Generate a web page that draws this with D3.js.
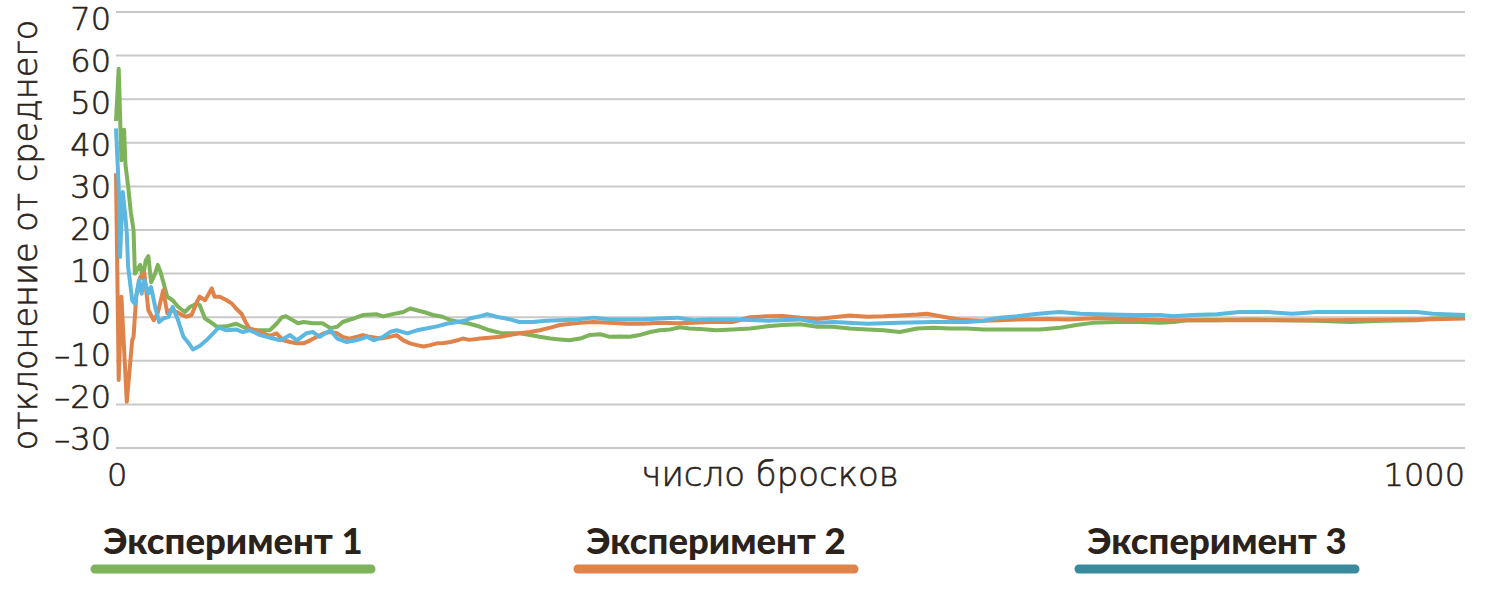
<!DOCTYPE html>
<html>
<head>
<meta charset="utf-8">
<script src="https://cdn.jsdelivr.net/npm/d3@7"></script>
<style>
  body { margin: 0; background: #fff; }
  text { fill: #2b231b; }
  .light { font-family: "DejaVu Sans", sans-serif; font-weight: 200; stroke: #2b231b; stroke-width: 0.6px; }
</style>
</head>
<body>
<script>

// throws and deviation from the mean
const exp1 = [
  [0,45],[2,57],[4,36],[6,43],[7,35],[9,30],[11,24],[13,20],[14,10],[18,12],[20,9],[22,13],
  [24,14],[26,8],[29,10],[31,12],[33,10.4],[38,4.7],[42,3.9],[46,2.4],[51,1.2],[55,2.4],
  [60,3.1],[62,2.8],[66,-0.3],[70,-1.1],[75,-2.2],[82,-2.1],[89,-1.5],[94,-2.2],[102,-3],
  [109,-3],[114,-3],[119,-1.5],[123,0],[126,0.2],[131,-0.7],[135,-1.4],[139,-1.1],[146,-1.4],
  [153,-1.4],[159,-2.5],[164,-2.2],[168,-1.1],[176,-0.3],[183,0.5],[193,0.7],[198,0.2],
  [205,0.7],[213,1.2],[218,2.0],[223,1.6],[228,1.2],[235,0.5],[242,0.1],[248,-0.7],[255,-1.1],
  [262,-1.5],[270,-2.2],[277,-3],[285,-3.6],[292,-3.7],[299,-3.7],[307,-4.1],[314,-4.5],
  [322,-4.9],[329,-5.1],[336,-5.3],[344,-4.9],[351,-4.1],[359,-3.9],[366,-4.5],[374,-4.4],
  [381,-4.5],[388,-4.1],[396,-3.4],[403,-3],[411,-2.8],[418,-2.3],[425,-2.6],[433,-2.7],
  [445,-3],[457,-2.8],[470,-2.6],[483,-2.1],[494,-1.8],[507,-1.6],[520,-2.2],[531,-2.2],
  [544,-2.6],[557,-2.8],[569,-3],[581,-3.4],[594,-2.6],[606,-2.4],[618,-2.6],[631,-2.6],
  [643,-2.8],[655,-2.8],[670,-2.8],[685,-2.8],[700,-2.4],[712,-1.8],[724,-1.3],[742,-1.1],
  [759,-1.1],[774,-1.3],[784,-1.1],[794,-0.7],[816,-0.7],[841,-0.5],[865,-0.7],[890,-0.8],
  [915,-1.1],[939,-0.8],[964,-0.7],[976,-0.3],[1000,-0.1]
];

const exp2 = [
  [0,33],[2,-14.4],[4,4.7],[8,-19.4],[12,-5.3],[13,-4.5],[15,4.7],[18,9.2],[21,10],[24,1.6],
  [28,-0.7],[31,1],[35,6.2],[38,0.9],[40,1.6],[45,1.2],[49,0.5],[52,0.1],[56,0.5],[60,3.5],
  [62,4.7],[66,3.9],[71,6.6],[73,4.7],[77,4.7],[82,3.9],[86,3.1],[89,2],[93,0.8],[96,-1.1],
  [99,-2.6],[104,-3],[109,-3.7],[114,-4.3],[119,-3.7],[124,-5.3],[129,-5.7],[134,-6],[139,-6],
  [144,-5.3],[149,-4.5],[154,-3.7],[159,-3.4],[164,-3.7],[168,-4.5],[173,-4.9],[178,-4.5],
  [183,-4.1],[188,-4.5],[196,-4.9],[203,-4.5],[208,-4.1],[213,-5.3],[218,-6],[223,-6.4],
  [228,-6.7],[233,-6.4],[238,-6],[243,-5.9],[248,-5.7],[253,-5.3],[257,-4.9],[262,-5.2],
  [270,-4.9],[277,-4.7],[285,-4.5],[292,-4.1],[299,-3.7],[307,-3.4],[314,-3],[322,-2.4],
  [329,-1.8],[337,-1.5],[344,-1.3],[354,-1.1],[366,-1.3],[379,-1.5],[391,-1.5],[403,-1.3],
  [416,-1.4],[428,-1.3],[440,-1.1],[457,-1.1],[470,0],[483,0.2],[494,0.3],[507,-0.1],
  [520,-0.4],[532,0],[544,0.4],[557,0.1],[569,0.2],[581,0.4],[594,0.6],[601,0.8],[613,0.1],
  [626,-0.6],[643,-0.8],[655,-0.7],[668,-0.5],[692,-0.4],[705,-0.5],[722,-0.3],[729,-0.2],
  [781,-0.7],[821,-0.7],[895,-0.7],[969,-0.5],[1000,-0.3]
];

const exp3 = [
  [0,43.3],[2,29.9],[3,13.8],[5,28.7],[7,23],[8,19.2],[9,11.5],[12,3.9],[14,3.1],[17,8.5],
  [19,5.4],[21,8.5],[24,5.4],[26,6.9],[29,2.4],[32,-1.1],[35,-0.3],[39,0.1],[42,2.4],[46,-0.7],
  [50,-4.5],[54,-6],[57,-7.4],[62,-6.6],[67,-5.3],[72,-3.7],[76,-2.4],[82,-3],[89,-2.8],
  [94,-3.4],[99,-3],[107,-4.1],[114,-4.7],[122,-5.3],[129,-4.1],[134,-5.3],[141,-3.7],
  [146,-3.4],[151,-4.5],[159,-3],[164,-4.9],[171,-5.7],[178,-5.3],[186,-4.5],[191,-5.3],
  [198,-4.5],[203,-3.4],[208,-3],[216,-3.7],[223,-3],[230,-2.6],[238,-2.1],[245,-1.5],
  [253,-1.1],[260,-0.7],[262,-0.3],[270,0.2],[275,0.7],[282,0.1],[292,-0.5],[299,-1.1],
  [309,-1.1],[319,-0.8],[329,-0.7],[342,-0.5],[354,-0.1],[366,-0.5],[379,-0.5],[391,-0.5],
  [403,-0.3],[416,-0.1],[428,-0.7],[440,-0.5],[457,-0.5],[483,-0.8],[507,-0.5],[520,-1.3],
  [532,-1.1],[557,-1.5],[581,-1.3],[606,-1.1],[631,-1.1],[643,-0.8],[655,-0.1],[668,0.2],
  [680,0.7],[692,1.0],[700,1.2],[715,0.8],[729,0.7],[754,0.5],[774,0.5],[784,0.2],[798,0.5],
  [816,0.7],[833,1.2],[853,1.2],[872,0.8],[890,1.2],[915,1.2],[939,1.2],[964,1.2],[976,0.8],
  [1000,0.5]
];

const yTicks = [70, 60, 50, 40, 30, 20, 10, 0, -10, -20, -30];
const xTicks = [0, 1000];
const legendLabels = ['Эксперимент 1', 'Эксперимент 2', 'Эксперимент 3'];
const lineColors = ['#7db35b', '#e0834a', '#5cb8e0'];
const legendColors = ['#7db35b', '#e0834a', '#378b9d'];

const W = 1500, H = 595;
const x = d3.scaleLinear().domain([0, 1000]).range([116, 1465]);
const y = d3.scaleLinear().domain([-30, 70]).range([448, 12]);
// tick labels sit a bit tighter than the grid in the original
const yLab = d3.scaleLinear().domain([-30, 70]).range([439, 19]);

const svg = d3.select('body').append('svg')
  .attr('width', W)
  .attr('height', H);

// grid
svg.append('g')
  .selectAll('line')
  .data(yTicks)
  .enter().append('line')
    .attr('x1', x(0))
    .attr('x2', x(1000))
    .attr('y1', d => y(d))
    .attr('y2', d => y(d))
    .attr('stroke', '#c9c9c9')
    .attr('stroke-width', 2);

// y labels
const yAxis = d3.axisLeft(yLab).tickValues(yTicks).tickSize(0).tickPadding(0)
  .tickFormat(d => d < 0 ? '\u2013' + Math.abs(d) : d);
const ya = svg.append('g')
  .attr('transform', 'translate(' + 111 + ',0)')
  .call(yAxis);
ya.select('.domain').remove();
ya.selectAll('text')
  .attr('class', 'light')
  .style('font-size', '32px')
  .style('fill', '#2b231b');

// x labels
const xa = svg.append('g')
  .attr('transform', 'translate(0,486)');
xa.selectAll('text')
  .data(xTicks)
  .enter().append('text')
    .attr('class', 'light')
    .attr('x', d => x(d))
    .attr('text-anchor', (d, i) => i === 0 ? 'start' : 'end')
    .attr('dx', (d, i) => i === 0 ? -9 : 0)
    .style('font-size', '32px')
    .text(d => d);

svg.append('text')
  .attr('class', 'light')
  .attr('x', 770)
  .attr('y', 486)
  .attr('text-anchor', 'middle')
  .style('font-size', '34px')
  .text('число бросков');

svg.append('text')
  .attr('class', 'light')
  .attr('transform', 'translate(37,235) rotate(-90)')
  .attr('text-anchor', 'middle')
  .style('font-size', '33.5px')
  .text('отклонение от среднего');

// lines
const line = d3.line()
  .x(d => x(d[0]))
  .y(d => y(d[1]));

[exp1, exp2, exp3].forEach(function(data, i) {
  svg.append('path')
    .datum(data)
    .attr('fill', 'none')
    .attr('stroke', lineColors[i])
    .attr('stroke-width', 4)
    .attr('stroke-linejoin', 'round')
    .attr('d', line);
});

// legend
const legendCenters = [233, 716, 1217];
const lg = svg.append('g');
legendLabels.forEach(function(lab, i) {
  lg.append('text')
    .attr('x', legendCenters[i])
    .attr('y', 554)
    .attr('text-anchor', 'middle')
    .style('font-family', 'Lato, sans-serif')
    .style('font-weight', 900)
    .style('font-size', '36.5px')
    .text(lab);
  lg.append('line')
    .attr('x1', legendCenters[i] - 138)
    .attr('x2', legendCenters[i] + 138)
    .attr('y1', 569)
    .attr('y2', 569)
    .attr('stroke', legendColors[i])
    .attr('stroke-width', 9)
    .attr('stroke-linecap', 'round');
});

</script>
</body>
</html>
